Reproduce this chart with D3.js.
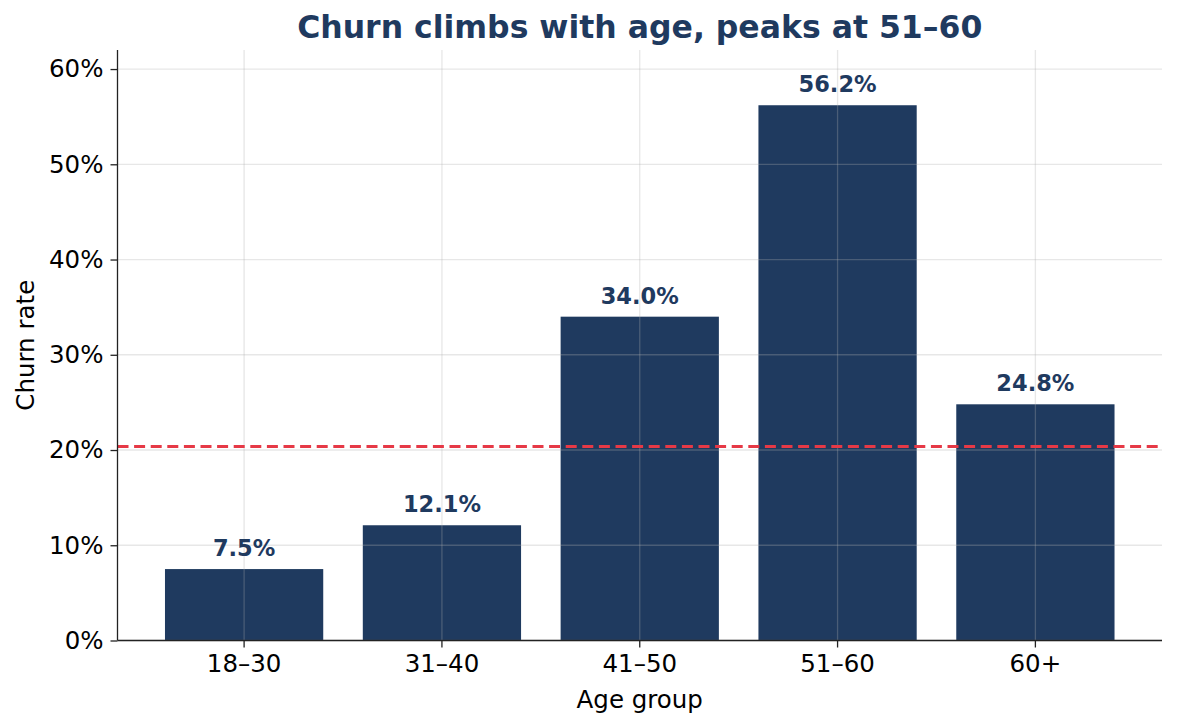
<!DOCTYPE html>
<html>
<head>
<meta charset="utf-8">
<script src="https://cdn.jsdelivr.net/npm/d3@7"></script>
<style>
html,body{margin:0;padding:0;background:#fff;}
svg{display:block;font-family:"DejaVu Sans",sans-serif;}
</style>
</head>
<body>
<svg id="chart" width="1177" height="727"></svg>
<script>
const categories = ["18–30", "31–40", "41–50", "51–60", "60+"];
const churnRates = [0.075, 0.121, 0.340, 0.562, 0.248];
const overallRate = 0.2037;
const yTicks = [0, 0.1, 0.2, 0.3, 0.4, 0.5, 0.6];
const titleText = "Churn climbs with age, peaks at 51–60";
const xLabel = "Age group";
const yLabel = "Churn rate";

const W = 1177, H = 727;
const m = {left: 117.5, right: 15, top: 50, bottom: 86.5};
const barColor = "#1f3a5f";
const svg = d3.select("#chart");

const x = d3.scaleBand().domain(categories)
  .range([m.left, W - m.right]).paddingInner(0.2).paddingOuter(0.24);
const y = d3.scaleLinear().domain([0, 0.62]).range([H - m.bottom, m.top]);

const pct = d3.format(".0%");

// bars
svg.append("g").selectAll("rect").data(categories).join("rect")
  .attr("x", d => x(d))
  .attr("width", x.bandwidth())
  .attr("y", (d, i) => y(churnRates[i]))
  .attr("height", (d, i) => y(0) - y(churnRates[i]))
  .attr("fill", barColor);

// grid (drawn above bars)
const grid = svg.append("g").attr("stroke", "#b0b0b0").attr("stroke-opacity", 0.3).attr("stroke-width", 1.3);
grid.selectAll("line.h").data(yTicks).join("line").attr("class", "h")
  .attr("x1", m.left).attr("x2", W - m.right)
  .attr("y1", d => y(d)).attr("y2", d => y(d));
grid.selectAll("line.v").data(categories).join("line").attr("class", "v")
  .attr("x1", d => x(d) + x.bandwidth() / 2).attr("x2", d => x(d) + x.bandwidth() / 2)
  .attr("y1", m.top).attr("y2", H - m.bottom);

// overall rate line
svg.append("line")
  .attr("x1", m.left).attr("x2", W - m.right)
  .attr("y1", y(overallRate)).attr("y2", y(overallRate))
  .attr("stroke", "#e63946").attr("stroke-width", 2.8)
  .attr("stroke-dasharray", "11,5.6");

// value labels
svg.append("g").selectAll("text").data(categories).join("text")
  .attr("x", d => x(d) + x.bandwidth() / 2)
  .attr("y", (d, i) => y(churnRates[i]) - 13)
  .attr("text-anchor", "middle")
  .attr("font-size", 22.5).attr("font-weight", "bold")
  .attr("fill", barColor)
  .text((d, i) => (churnRates[i] * 100).toFixed(1) + "%");

// axes
const yAxis = svg.append("g").attr("transform", `translate(${m.left},0)`)
  .call(d3.axisLeft(y).tickValues(yTicks).tickFormat(pct).tickSize(7).tickPadding(7));
const xAxis = svg.append("g").attr("transform", `translate(0,${H - m.bottom})`)
  .call(d3.axisBottom(x).tickSize(7).tickPadding(7));
[yAxis, xAxis].forEach(g => {
  g.select(".domain").attr("stroke", "#222").attr("stroke-width", 1.3);
  g.selectAll(".tick line").attr("stroke", "#222").attr("stroke-width", 1.3);
  g.selectAll(".tick text").attr("font-size", 24.5).attr("fill", "#000")
    .attr("font-family", "DejaVu Sans");
});
yAxis.select(".domain").attr("d", `M0,${y(0.62)}V${y(0)}`);
xAxis.select(".domain").attr("d", `M${m.left},0H${W - m.right}`);

// labels
svg.append("text").attr("x", (m.left + W - m.right) / 2).attr("y", 708)
  .attr("text-anchor", "middle").attr("font-size", 24.5).attr("fill", "#000").text(xLabel);
svg.append("text").attr("transform", `translate(33.5,${(m.top + H - m.bottom) / 2}) rotate(-90)`)
  .attr("text-anchor", "middle").attr("font-size", 24.5).attr("fill", "#000").text(yLabel);
svg.append("text").attr("x", (m.left + W - m.right) / 2).attr("y", 38)
  .attr("text-anchor", "middle").attr("font-size", 31.5).attr("font-weight", "bold")
  .attr("fill", barColor).text(titleText);
</script>
</body>
</html>
